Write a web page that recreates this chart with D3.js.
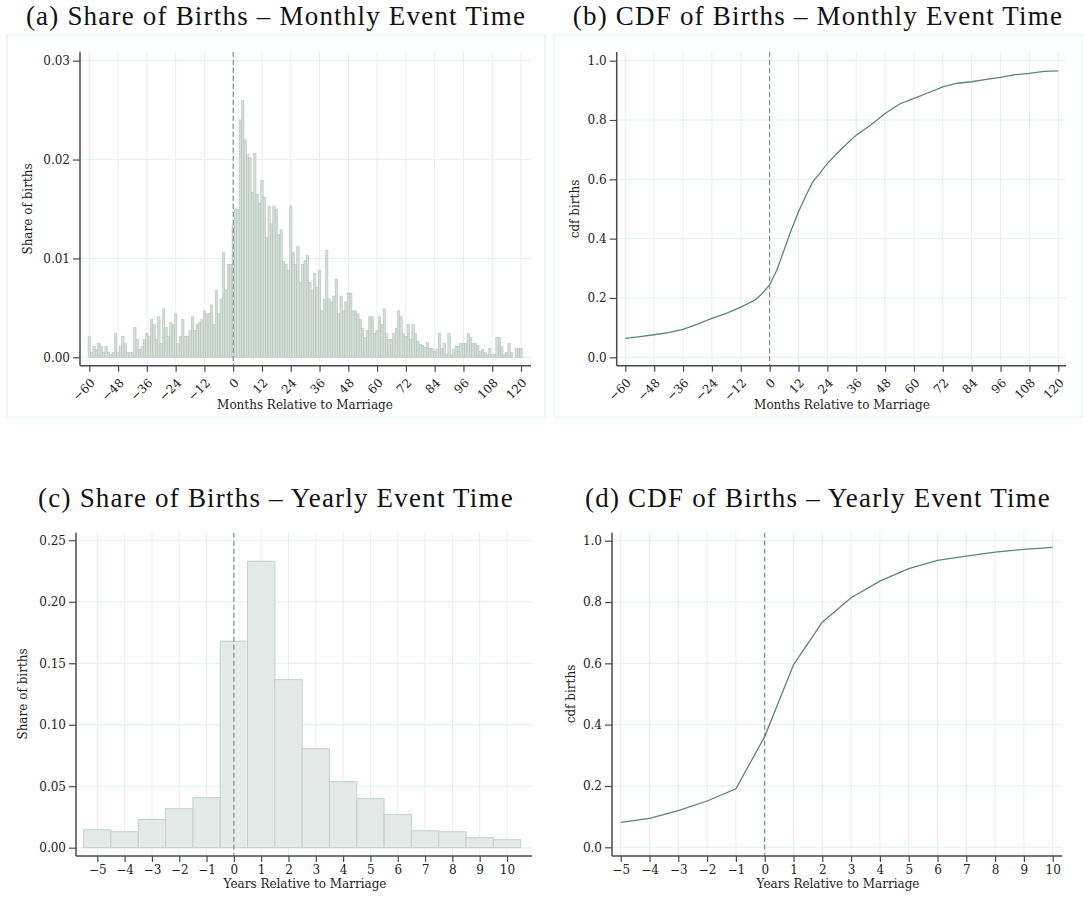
<!DOCTYPE html>
<html>
<head>
<meta charset="utf-8">
<script src="https://cdn.jsdelivr.net/npm/d3@7"></script>
<style>
  body { margin: 0; background: #fff; }
  svg text { font-family: "DejaVu Serif", serif; fill: #222; }
  .title { font-family: "Liberation Serif", serif; font-size: 27px; letter-spacing: 1.2px; fill: #111; }
</style>
</head>
<body>
<svg id="fig" width="1084" height="903"></svg>
<script>
// months relative to marriage, -60 .. 120
var months = d3.range(-60, 121);
var monthShare = [
  0.0021,0.0005,0.0011,0.0008,0.0014,0.0011,0.0005,0.0011,0.0005,0.0003,0.0005,0.0024, // -60..-49
  0.0005,0.0011,0.0021,0.0014,0.0005,0.0005,0.0005,0.0030,0.0018,0.0008,0.0011,0.0018, // -48..-37
  0.0024,0.0021,0.0038,0.0033,0.0018,0.0041,0.0014,0.0049,0.0030,0.0021,0.0035,0.0033, // -36..-25
  0.0044,0.0014,0.0021,0.0038,0.0021,0.0021,0.0027,0.0041,0.0027,0.0033,0.0035,0.0038, // -24..-13
  0.0047,0.0044,0.0044,0.0053,0.0033,0.0068,0.0044,0.0059,0.0106,0.0068,0.0094,0.0094, // -12..-1
  0.0133,0.0150,0.0150,0.0240,0.0260,0.0220,0.0205,0.0202,0.0167,0.0206,0.0165,0.0156, // 0..11
  0.0179,0.0162,0.0121,0.0153,0.0135,0.0153,0.0150,0.0124,0.0129,0.0097,0.0094,0.0088, // 12..23
  0.0153,0.0106,0.0094,0.0112,0.0076,0.0094,0.0098,0.0103,0.0076,0.0068,0.0085,0.0071, // 24..35
  0.0088,0.0047,0.0059,0.0108,0.0059,0.0056,0.0062,0.0079,0.0044,0.0062,0.0047,0.0056, // 36..47
  0.0065,0.0065,0.0047,0.0047,0.0044,0.0038,0.0029,0.0020,0.0027,0.0041,0.0041,0.0024, // 48..59
  0.0027,0.0041,0.0033,0.0049,0.0024,0.0018,0.0018,0.0024,0.0029,0.0047,0.0041,0.0024, // 60..71
  0.0021,0.0033,0.0018,0.0033,0.0024,0.0016,0.0013,0.0012,0.0010,0.0015,0.0009,0.0009, // 72..83
  0.0006,0.0008,0.0024,0.0009,0.0014,0.0003,0.0024,0.0003,0.0008,0.0011,0.0011,0.0014, // 84..95
  0.0014,0.0014,0.0024,0.0020,0.0014,0.0014,0.0012,0.0006,0.0008,0.0005,0.0003,0.0009, // 96..107
  0.0003,0.0003,0.0020,0.0020,0.0011,0.0003,0.0005,0.0014,0.0005,0.0000,0.0009,0.0009, // 108..119
  0.0009                                                                               // 120
];
var monthTicks = [-60,-48,-36,-24,-12,0,12,24,36,48,60,72,84,96,108,120];

// cdf of births, monthly (read at selected months)
var cdfMonthX = [-60,-54,-48,-42,-36,-30,-24,-18,-12,-6,-3,0,3,6,9,12,15,18,21,24,30,36,42,48,54,60,66,72,78,84,90,96,102,108,114,120];
var cdfMonthY = [0.064,0.070,0.076,0.083,0.094,0.112,0.131,0.148,0.169,0.193,0.216,0.244,0.294,0.362,0.429,0.491,0.544,0.592,0.622,0.654,0.704,0.749,0.783,0.822,0.854,0.873,0.892,0.912,0.924,0.929,0.937,0.944,0.953,0.957,0.964,0.966];

// years relative to marriage
var years = [-5,-4,-3,-2,-1,0,1,2,3,4,5,6,7,8,9,10];
var yearShare = [0.0146,0.0130,0.0230,0.0317,0.0407,0.1680,0.2330,0.1367,0.0805,0.0537,0.0399,0.0271,0.0138,0.0130,0.0081,0.0065];
var yearCdf = [0.0815,0.0946,0.1200,0.1510,0.1910,0.3610,0.5950,0.7340,0.8140,0.8680,0.9090,0.9360,0.9500,0.9630,0.9720,0.9780];

var shareTicksM = [0, 0.01, 0.02, 0.03];
var shareTicksY = [0, 0.05, 0.10, 0.15, 0.20, 0.25];
var cdfTicks = [0, 0.2, 0.4, 0.6, 0.8, 1.0];

var svg = d3.select("#fig");

var gridColor = "#e7eff1";
var axisColor = "#4a4a4a";
var lineColor = "#5b8677";
var dashColor = "#6f8f88";

// draw the frame, grid and axes of one panel; returns the scales
function panel(p) {
  var g = svg.append("g");
  var x = d3.scaleLinear().domain(p.xDomain).range(p.xRange);
  var y = d3.scaleLinear().domain(p.yDomain).range(p.yRange);

  if (p.border) {
    g.append("rect")
      .attr("x", p.border[0]).attr("y", p.border[1])
      .attr("width", p.border[2] - p.border[0]).attr("height", p.border[3] - p.border[1])
      .attr("fill", "none").attr("stroke", "#e9eff1").attr("stroke-width", 1);
  }

  // title
  g.append("text").attr("class", "title")
    .attr("x", p.titleX).attr("y", p.titleY)
    .attr("text-anchor", "middle")
    .text(p.title);

  // gridlines
  g.selectAll(".hgrid").data(p.yTicks).enter().append("line")
    .attr("x1", p.left).attr("x2", p.right)
    .attr("y1", function(d) { return y(d); }).attr("y2", function(d) { return y(d); })
    .attr("stroke", gridColor).attr("stroke-width", 1);
  g.selectAll(".vgrid").data(p.xTicks).enter().append("line")
    .attr("x1", function(d) { return x(d); }).attr("x2", function(d) { return x(d); })
    .attr("y1", p.top).attr("y2", p.bottom)
    .attr("stroke", gridColor).attr("stroke-width", 1);

  var marks = g.append("g");

  // dashed line at marriage
  var over = g.append("g");
  over.append("line")
    .attr("x1", x(0)).attr("x2", x(0))
    .attr("y1", p.top).attr("y2", p.bottom)
    .attr("stroke", dashColor).attr("stroke-width", 1.1)
    .attr("stroke-dasharray", "5,3");

  // y axis
  var leftAxis = d3.axisLeft(y).tickValues(p.yTicks).tickFormat(d3.format(p.yFormat))
    .tickSize(7).tickPadding(3);
  var ya = g.append("g").attr("transform", "translate(" + p.left + ",0)").call(leftAxis);
  ya.select(".domain").remove();
  ya.selectAll("line").attr("stroke", axisColor).attr("stroke-width", 1.2);
  ya.selectAll("text").attr("font-size", 12).attr("font-family", "DejaVu Serif").attr("fill", "#222");
  g.append("line")
    .attr("x1", p.left).attr("x2", p.left).attr("y1", p.top).attr("y2", p.bottom)
    .attr("stroke", axisColor).attr("stroke-width", 1.5);

  // x axis
  var bottomAxis = d3.axisBottom(x).tickValues(p.xTicks).tickSize(6).tickPadding(3);
  var xa = g.append("g").attr("transform", "translate(0," + p.bottom + ")").call(bottomAxis);
  xa.select(".domain").remove();
  xa.selectAll("line").attr("stroke", axisColor).attr("stroke-width", 1.2);
  xa.selectAll("text").attr("font-size", 12).attr("font-family", "DejaVu Serif").attr("fill", "#222");
  if (p.rotate) {
    xa.selectAll("text")
      .attr("y", 0).attr("dy", "0.35em")
      .attr("transform", "translate(3,15) rotate(-45)")
      .style("text-anchor", "end");
  }
  g.append("line")
    .attr("x1", p.left).attr("x2", p.right).attr("y1", p.bottom).attr("y2", p.bottom)
    .attr("stroke", axisColor).attr("stroke-width", 1.5);

  // axis titles
  g.append("text")
    .attr("x", p.xTitleX).attr("y", p.xTitleY)
    .attr("text-anchor", "middle").attr("font-size", 12)
    .text(p.xTitle);
  g.append("text")
    .attr("transform", "translate(" + p.yTitleX + "," + p.yTitleY + ") rotate(-90)")
    .attr("text-anchor", "middle").attr("font-size", 12)
    .text(p.yTitle);

  return { x: x, y: y, marks: marks };
}

// (a) share of births, monthly
var pa = panel({
  title: "(a) Share of Births \u2013 Monthly Event Time", titleX: 276, titleY: 25,
  border: [7, 35, 545, 417],
  left: 80, right: 531, top: 52, bottom: 365.7,
  xDomain: [-60, 120], xRange: [89.3, 521],
  yDomain: [0, 0.03], yRange: [357.3, 60.7],
  xTicks: monthTicks, yTicks: shareTicksM, yFormat: ".2f", rotate: true,
  xTitle: "Months Relative to Marriage", xTitleX: 305, xTitleY: 409,
  yTitle: "Share of births", yTitleX: 32, yTitleY: 209
});
var bw = pa.x(1) - pa.x(0);
pa.marks.selectAll("rect").data(months).enter().append("rect")
  .attr("x", function(d) { return pa.x(d) - bw / 2; })
  .attr("width", bw)
  .attr("y", function(d, i) { return pa.y(monthShare[i]); })
  .attr("height", function(d, i) { return pa.y(0) - pa.y(monthShare[i]); })
  .attr("fill", "#d3ded8").attr("stroke", "#adbfb6").attr("stroke-width", 0.5);

// (b) cdf of births, monthly
var pb = panel({
  title: "(b) CDF of Births \u2013 Monthly Event Time", titleX: 818, titleY: 25,
  border: [554, 35, 1082, 417],
  left: 616.7, right: 1066, top: 52, bottom: 365.7,
  xDomain: [-60, 120], xRange: [625.3, 1058.3],
  yDomain: [0, 1], yRange: [357.3, 60.7],
  xTicks: monthTicks, yTicks: cdfTicks, yFormat: ".1f", rotate: true,
  xTitle: "Months Relative to Marriage", xTitleX: 842, xTitleY: 409,
  yTitle: "cdf births", yTitleX: 579, yTitleY: 209
});
var lineB = d3.line()
  .x(function(d, i) { return pb.x(cdfMonthX[i]); })
  .y(function(d) { return pb.y(d); });
pb.marks.append("path").datum(cdfMonthY)
  .attr("d", lineB).attr("fill", "none")
  .attr("stroke", lineColor).attr("stroke-width", 1.3);

// (c) share of births, yearly
var pc = panel({
  title: "(c) Share of Births \u2013 Yearly Event Time", titleX: 276, titleY: 507,
  left: 76, right: 532, top: 532.7, bottom: 856,
  xDomain: [-5, 10], xRange: [97.3, 507],
  yDomain: [0, 0.25], yRange: [847.7, 540.3],
  xTicks: years, yTicks: shareTicksY, yFormat: ".2f", rotate: false,
  xTitle: "Years Relative to Marriage", xTitleX: 305, xTitleY: 888,
  yTitle: "Share of births", yTitleX: 27, yTitleY: 694
});
var yw = pc.x(1) - pc.x(0);
pc.marks.selectAll("rect").data(years).enter().append("rect")
  .attr("x", function(d) { return pc.x(d) - yw / 2; })
  .attr("width", yw)
  .attr("y", function(d, i) { return pc.y(yearShare[i]); })
  .attr("height", function(d, i) { return pc.y(0) - pc.y(yearShare[i]); })
  .attr("fill", "#e3eae7").attr("stroke", "#c4d0ca").attr("stroke-width", 1);

// (d) cdf of births, yearly
var pd = panel({
  title: "(d) CDF of Births \u2013 Yearly Event Time", titleX: 818, titleY: 507,
  left: 612, right: 1062, top: 532.7, bottom: 856,
  xDomain: [-5, 10], xRange: [620.7, 1052.7],
  yDomain: [0, 1], yRange: [847.3, 540.7],
  xTicks: years, yTicks: cdfTicks, yFormat: ".1f", rotate: false,
  xTitle: "Years Relative to Marriage", xTitleX: 838, xTitleY: 888,
  yTitle: "cdf births", yTitleX: 575, yTitleY: 694
});
var lineD = d3.line()
  .x(function(d, i) { return pd.x(years[i]); })
  .y(function(d) { return pd.y(d); });
pd.marks.append("path").datum(yearCdf)
  .attr("d", lineD).attr("fill", "none")
  .attr("stroke", lineColor).attr("stroke-width", 1.3);
</script>
</body>
</html>
